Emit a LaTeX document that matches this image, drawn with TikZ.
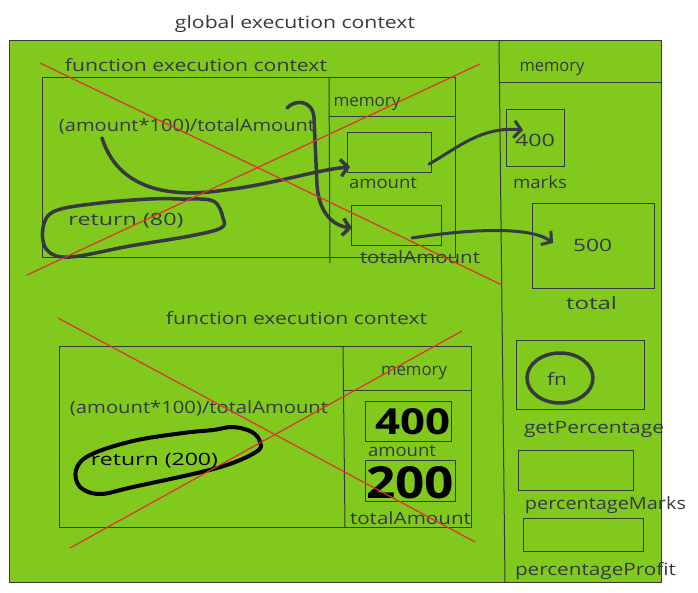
\documentclass[tikz,border=0pt]{standalone}
\usepackage{fontspec}
\setmainfont{Open Sans}
\usepackage{graphicx}
\usetikzlibrary{arrows.meta}
\definecolor{ink}{RGB}{52,58,64}
\definecolor{leaf}{RGB}{130,201,30}
\definecolor{crossred}{RGB}{224,49,49}
\newcommand\tw[2]{\resizebox{#1pt}{\height}{#2}}
\begin{document}
\begin{tikzpicture}[x=1pt,y=-1pt,
  lbl/.style={inner sep=0pt, text=ink, font=\fontsize{17}{20}\selectfont},
  blacklbl/.style={inner sep=0pt, text=black, font=\fontsize{17}{20}\selectfont},
  biglbl/.style={inner sep=0pt, text=black, font=\fontsize{30}{34}\selectfont\bfseries},
  panel/.style={draw=ink, line width=1pt, inner sep=0pt},
  slot/.style={draw=ink, line width=1pt, inner sep=0pt},
  thinline/.style={draw=ink, line width=1pt},
  crossline/.style={draw=crossred, line width=1.2pt},
  harrow/.style={draw=ink, line width=3.5pt, line cap=round, line join=round, -{Straight Barb[length=7pt,width=17pt]}},
  blob/.style={draw=ink, line width=3.5pt, line cap=round, line join=round}
]
\useasboundingbox (0,0) rectangle (698,593);

% title
\node[lbl] (title) at (295,24) {\tw{240}{global execution context}};

% global context frame
\node[panel, fill=leaf, minimum width=652pt, minimum height=541pt] (global) at (335,311.5) {};
\draw[thinline] (499,41) -- (505,582);
\draw[thinline] (499,83) -- (661,83);
\node[lbl] (memG) at (552,69) {\tw{65}{memory}};

% ---------- first function execution context ----------
\node[panel, minimum width=413pt, minimum height=180pt] (fec1) at (248.5,168) {};
\draw[thinline] (329,78) -- (330,263);
\draw[thinline] (329,117) -- (456,117);
\node[lbl] (fec1lbl) at (196,65) {\tw{262}{function execution context}};
\node[lbl] (mem1) at (367,104) {\tw{67}{memory}};
\node[lbl] (expr1) at (187,126) {\tw{256}{(amount*100)/totalAmount}};
\node[slot, minimum width=84pt, minimum height=40pt] (amt1box) at (389,153) {};
\node[lbl] (amt1lbl) at (383,183) {\tw{68}{amount}};
\node[slot, minimum width=90pt, minimum height=40pt] (tot1box) at (396,226) {};
\node[lbl] (tot1lbl) at (420,257) {\tw{120}{totalAmount}};
\node[lbl] (ret1) at (126,221) {\tw{115}{return (80)}};
\draw[blob] plot[smooth cycle, tension=0.6] coordinates {(180,199) (213,201) (223,218) (221,228) (190,236) (130,246) (70,257) (47,250) (43,228) (55,211) (100,203) (150,199)};

% ---------- global memory ----------
\node[slot, minimum width=58pt, minimum height=57pt] (marksbox) at (535,138.5) {};
\node[lbl] (v400) at (535,140) {\tw{40}{400}};
\node[lbl] (marks) at (540,182) {\tw{54}{marks}};
\node[slot, minimum width=122pt, minimum height=85pt] (totalbox) at (593,246.5) {};
\node[lbl] (v500) at (592.5,245) {\tw{39}{500}};
\node[lbl] (totall) at (591.5,303) {\tw{51}{total}};
\node[slot, minimum width=128pt, minimum height=69pt] (getbox) at (580,374.5) {};
\draw[blob] (560,378) ellipse [x radius=33, y radius=25];
\node[lbl] (fn) at (557,379) {\tw{20}{fn}};
\node[lbl] (getl) at (594,429) {\tw{140}{getPercentage}};
\node[slot, minimum width=115pt, minimum height=40pt] (pmbox) at (575.5,470) {};
\node[lbl] (pml) at (605.5,505) {\tw{161}{percentageMarks}};
\node[slot, minimum width=120pt, minimum height=33pt] (ppbox) at (583,534.5) {};
\node[lbl] (ppl) at (595.5,571) {\tw{161}{percentageProfit}};

% ---------- arrows of first context ----------
\coordinate (a1s) at (102,138);
\coordinate (a1e) at (350,167);
\coordinate (a2s) at (287,108);
\coordinate (a2e) at (352,228);
\coordinate (a3s) at (429,164);
\coordinate (a3e) at (523,130);
\coordinate (a4s) at (412,238);
\coordinate (a4e) at (553,243);
\draw[harrow] (a1s) .. controls (120,195) and (180,197) .. (225,190) .. controls (275,184) and (315,170) .. (a1e);
\draw[harrow] (a2s) .. controls (295,99) and (313,100) .. (314,118) -- (317,185) .. controls (319,215) and (335,226) .. (a2e);
\draw[harrow, line width=3pt] (a3s) .. controls (455,150) and (480,126) .. (a3e);
\draw[harrow, line width=3pt] (a4s) .. controls (470,229) and (530,226) .. (a4e);

% cross over first context
\draw[crossline] (40,63) -- (502,285);
\draw[crossline] (27,275) -- (480,64);

% ---------- second function execution context ----------
\node[panel, minimum width=412pt, minimum height=181pt] (fec2) at (265,436.5) {};
\draw[thinline] (343,346) -- (345,527);
\draw[thinline] (343,390) -- (471,390);
\node[lbl] (fec2lbl) at (296.5,318) {\tw{261}{function execution context}};
\node[lbl] (mem2) at (414,373) {\tw{66}{memory}};
\node[lbl] (expr2) at (199,408) {\tw{258}{(amount*100)/totalAmount}};
\node[slot, minimum width=86pt, minimum height=40pt] (amt2box) at (408,421) {};
\node[biglbl] (b400) at (412.5,421.5) {\resizebox{75pt}{26pt}{400}};
\node[lbl] (amt2lbl) at (402,451) {\tw{68}{amount}};
\node[slot, minimum width=90pt, minimum height=41pt] (tot2box) at (410,480.5) {};
\node[biglbl] (b200) at (410,483) {\resizebox{88pt}{32pt}{200}};
\node[lbl] (tot2lbl) at (410.5,518) {\tw{121}{totalAmount}};
\node[blacklbl] (ret2) at (154.5,461) {\tw{127}{return (200)}};
\draw[blob, draw=black, line width=4pt] plot[smooth cycle, tension=0.6] coordinates {(183,433) (213,430) (233,427) (252,432) (260,442) (256,452) (217,468) (133,487) (100,494) (80,487) (76,470) (90,455) (133,441)};

% cross over second context
\draw[crossline] (58,318) -- (475,542);
\draw[crossline] (70,548) -- (462,331);
\end{tikzpicture}
\end{document}
